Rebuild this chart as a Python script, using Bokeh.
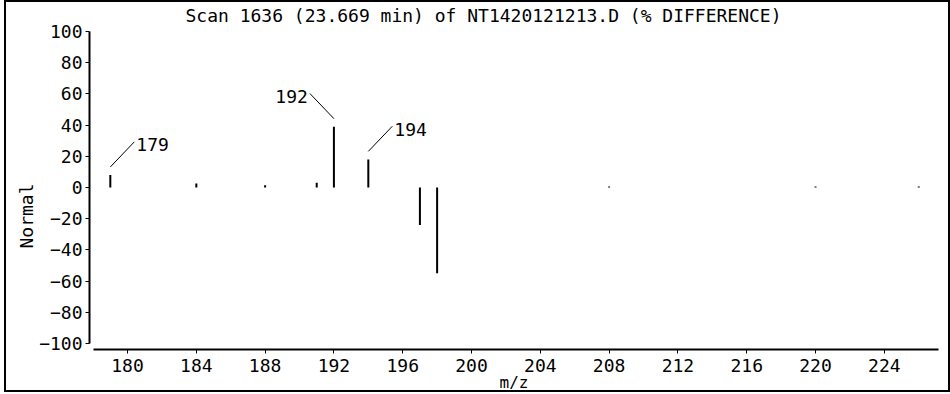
from bokeh.plotting import figure
from bokeh.models import Range1d, FixedTicker, Label, ColumnDataSource, Title
from bokeh.embed import file_html
from bokeh.resources import INLINE

# ---- data ----
mz = [179, 184, 188, 191, 192, 194, 197, 198, 208, 220, 226]
pct_diff = [8, 2.5, 1.5, 3, 39, 18, -24, -55, 0.7, 0.7, 0.7]
labeled_mz = [179, 192, 194]
labeled_side = [1, -1, 1]          # +1: label to the right, -1: to the left
x_ticks = list(range(180, 228, 4))
y_ticks = list(range(-100, 101, 20))
title_text = "Scan 1636 (23.669 min) of NT1420121213.D (% DIFFERENCE)"
x_label = "m/z"
y_label = "Normal"

FONT = "DejaVu Sans Mono"
FS = "18px"
W, H = 946, 392
ML, MR = 83, 14
X0, X1 = 177.79, 227.15
Y0, Y1 = -103.9, 103.9
PX_X = 17.18   # pixels per m/z unit
PX_Y = 1.55    # pixels per % unit

p = figure(width=W, height=H, x_range=Range1d(X0, X1), y_range=Range1d(Y0, Y1),
           output_backend="svg", toolbar_location=None,
           min_border_left=ML, min_border_right=MR, min_border_top=0, min_border_bottom=44,
           title=title_text)
p.styles = {"border": "2px solid black", "margin-left": "4px"}
p.outline_line_color = None
p.xgrid.visible = False
p.ygrid.visible = False
p.background_fill_color = "white"
p.border_fill_color = "white"

p.title.text_font = FONT
p.title.text_font_size = FS
p.title.text_font_style = "normal"
p.title.text_color = "black"
p.title.align = "left"
p.title.offset = 96
p.title.standoff = 0

for ax in (p.xaxis[0], p.yaxis[0]):
    ax.axis_line_width = 2
    ax.axis_line_color = "black"
    ax.major_tick_line_color = "black"
    ax.major_tick_line_width = 1
    ax.major_tick_out = 4
    ax.major_tick_in = 0
    ax.minor_tick_line_color = None
    ax.major_label_text_font = FONT
    ax.major_label_text_font_size = FS
    ax.major_label_text_color = "black"
    ax.major_label_standoff = 3

p.xaxis.ticker = FixedTicker(ticks=x_ticks)
p.yaxis.ticker = FixedTicker(ticks=y_ticks)
p.xaxis.bounds = (178.0, X1)
p.yaxis.bounds = (-100, 100)
p.xaxis.axis_label = x_label
p.xaxis.axis_label_text_font = FONT
p.xaxis.axis_label_text_font_size = "16px"
p.xaxis.axis_label_text_font_style = "normal"
p.xaxis.axis_label_text_color = "black"
p.xaxis.axis_label_standoff = -2
p.xaxis.major_label_standoff = 5

# y axis label as a side title
p.add_layout(Title(text=y_label, align="left", offset=101, standoff=0, text_color="black",
                   text_font=FONT, text_font_size=FS, text_font_style="normal"), "left")

# spectrum sticks
src = ColumnDataSource(dict(x=mz, y0=[0] * len(mz), y1=pct_diff))
p.segment(x0="x", y0="y0", x1="x", y1="y1", source=src, line_color="black", line_width=2)

# peak annotations with leader lines
lx0, ly0, lx1, ly1 = [], [], [], []
for m, side in zip(labeled_mz, labeled_side):
    top = pct_diff[mz.index(m)]
    sx, sy = m, top + 8 / PX_Y
    ex, ey = m + side * 24 / PX_X, top + 33 / PX_Y
    lx0.append(sx); ly0.append(sy); lx1.append(ex); ly1.append(ey)
    p.add_layout(Label(x=ex + side * 2 / PX_X, y=ey - 3 / PX_Y, text=str(m),
                       text_font=FONT, text_font_size=FS, text_color="black",
                       text_align="left" if side > 0 else "right", text_baseline="middle"))
p.segment(x0=lx0, y0=ly0, x1=lx1, y1=ly1, line_color="black", line_width=1)

open("out.html", "w").write(file_html(p, INLINE))
